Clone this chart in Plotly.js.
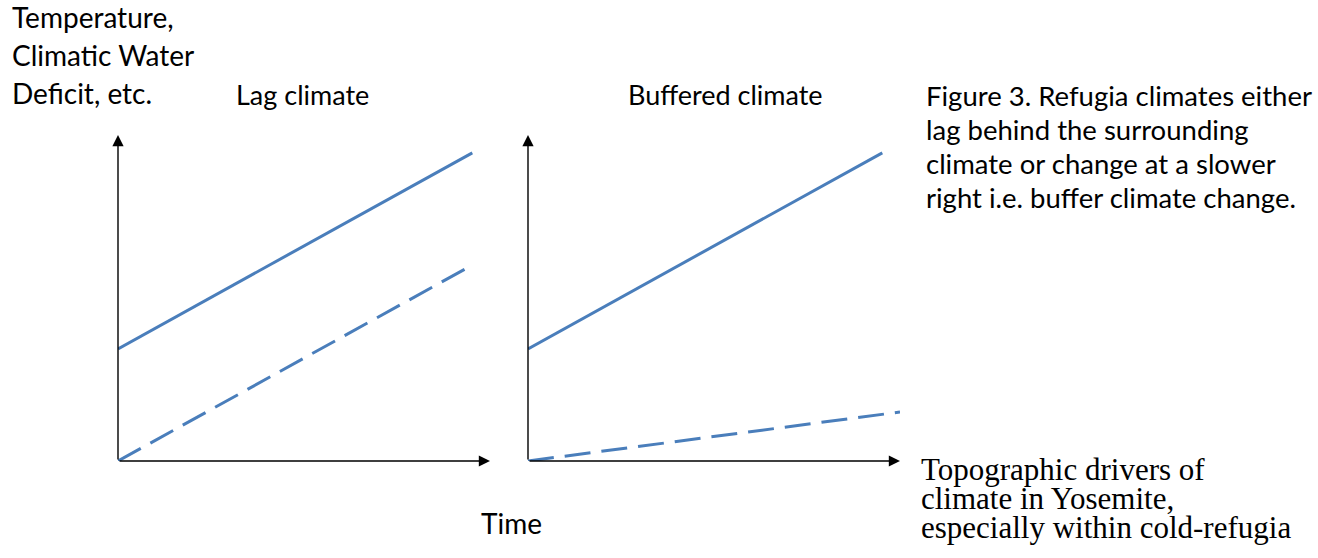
<!DOCTYPE html>
<html>
<head>
<meta charset="utf-8">
<script src="https://cdn.plot.ly/plotly-3.0.1.min.js"></script>
<style>html,body{margin:0;padding:0;background:#fff;}#chart{width:1318px;height:558px;}</style>
</head>
<body>
<div id="chart"></div>
<script>
// ---- data (schematic) ----
const timeSolid = [0, 1];            // time span of the surrounding-climate lines
const lagSurrounding = [3.64, 10];   // solid line, lag panel
const lagRefugia = [0, 6.36];        // dashed line, lag panel
const bufTimeDashed = [0, 1.05];
const bufSurrounding = [3.64, 10];   // solid line, buffered panel
const bufRefugia = [0, 1.59];        // dashed line, buffered panel
const xMax = 1.05;
const yMax = 10.58;

const panelTitles = ["Lag climate", "Buffered climate"];
const yLabelLines = ["Temperature,", "Climatic Water", "Deficit, etc."];
const xLabel = "Time";
const captionLines = [
  "Figure 3. Refugia climates either",
  "lag behind the surrounding",
  "climate or change at a slower",
  "right i.e. buffer climate change."
];
const footerLines = [
  "Topographic drivers of",
  "climate in Yosemite,",
  "especially within cold-refugia"
];

// ---- layout helpers ----
const W = 1318, H = 558;
const px = v => v / W;
const py = v => 1 - v / H;
const blue = '#4a7ebb';
const sansFam = 'Lato, "Open Sans", sans-serif';
const headFont = {family: sansFam, size: 28, color: '#000'};
const titleFont = {family: sansFam, size: 27, color: '#000'};
const capFont = {family: sansFam, size: 27.5, color: '#000'};
const serifFont = {family: '"Liberation Serif", "DejaVu Serif", serif', size: 31, color: '#000'};

const traces = [
  {x: timeSolid, y: lagSurrounding, xaxis: 'x', yaxis: 'y', mode: 'lines',
   line: {color: blue, width: 3}, hoverinfo: 'skip'},
  {x: timeSolid, y: lagRefugia, xaxis: 'x', yaxis: 'y', mode: 'lines',
   line: {color: blue, width: 3, dash: '26px,11px'}, hoverinfo: 'skip'},
  {x: timeSolid, y: bufSurrounding, xaxis: 'x2', yaxis: 'y2', mode: 'lines',
   line: {color: blue, width: 3}, hoverinfo: 'skip'},
  {x: bufTimeDashed, y: bufRefugia, xaxis: 'x2', yaxis: 'y2', mode: 'lines',
   line: {color: blue, width: 3, dash: '26px,11px'}, hoverinfo: 'skip'}
];

const axisCommon = {showgrid: false, zeroline: false, showline: false, showticklabels: false, ticks: '', fixedrange: true};

const annotations = [];
// axis arrows
[['x', 'y'], ['x2', 'y2']].forEach(([xr, yr]) => {
  annotations.push({xref: xr, yref: yr, axref: xr, ayref: yr, x: 0, y: yMax, ax: 0, ay: 0,
    showarrow: true, arrowhead: 2, arrowsize: 1.6, arrowwidth: 1.4, arrowcolor: '#000', standoff: 0, startstandoff: 0, text: ''});
  annotations.push({xref: xr, yref: yr, axref: xr, ayref: yr, x: xMax, y: 0, ax: 0, ay: 0,
    showarrow: true, arrowhead: 2, arrowsize: 1.6, arrowwidth: 1.4, arrowcolor: '#000', standoff: 0, startstandoff: 0, text: ''});
});

const off = f => 0.387 * f.size;
const serifOff = 0.3375 * serifFont.size;
const yLabelBase = [27.5, 66, 104];
yLabelLines.forEach((t, i) => annotations.push({xref: 'paper', yref: 'paper', x: px(10), y: py(yLabelBase[i] - off(headFont)),
  xanchor: 'left', yanchor: 'middle', text: t, showarrow: false, font: headFont}));
const titleX = [302, 725];
panelTitles.forEach((t, i) => annotations.push({xref: 'paper', yref: 'paper', x: px(titleX[i]), y: py(105 - off(titleFont)),
  xanchor: 'center', yanchor: 'middle', text: t, showarrow: false, font: titleFont}));
annotations.push({xref: 'paper', yref: 'paper', x: px(511), y: py(534 - off(headFont)),
  xanchor: 'center', yanchor: 'middle', text: xLabel, showarrow: false, font: headFont});
const capBase = [106, 140, 174, 208];
captionLines.forEach((t, i) => annotations.push({xref: 'paper', yref: 'paper', x: px(924), y: py(capBase[i] - off(capFont)),
  xanchor: 'left', yanchor: 'middle', text: t, showarrow: false, font: capFont}));
const footBase = [480, 509, 538];
footerLines.forEach((t, i) => annotations.push({xref: 'paper', yref: 'paper', x: px(920), y: py(footBase[i] - serifOff),
  xanchor: 'left', yanchor: 'middle', text: t, showarrow: false, font: serifFont, borderpad: 0}));

const layout = {
  width: W, height: H,
  margin: {l: 0, r: 0, t: 0, b: 0},
  paper_bgcolor: '#fff', plot_bgcolor: 'rgba(0,0,0,0)',
  showlegend: false,
  xaxis: Object.assign({}, axisCommon, {domain: [px(118), px(490)], range: [0, xMax]}),
  yaxis: Object.assign({}, axisCommon, {domain: [py(461), py(135)], range: [0, yMax]}),
  xaxis2: Object.assign({}, axisCommon, {domain: [px(528), px(900)], range: [0, xMax], anchor: 'y2'}),
  yaxis2: Object.assign({}, axisCommon, {domain: [py(461), py(135)], range: [0, yMax], anchor: 'x2'}),
  annotations: annotations
};

Plotly.newPlot('chart', traces, layout, {displayModeBar: false, staticPlot: true});
</script>
</body>
</html>
